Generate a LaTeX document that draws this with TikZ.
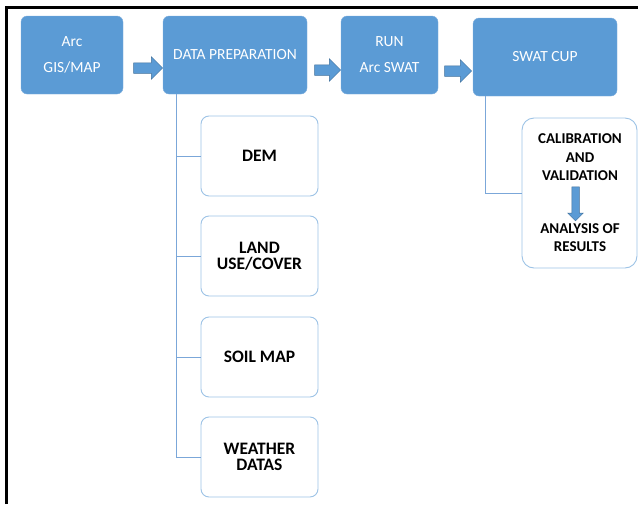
\documentclass[tikz,border=0pt]{standalone}
\usepackage{fontspec}
\setmainfont{Carlito}
\usepackage{tikz}
\usetikzlibrary{positioning,shapes.arrows,calc}
\definecolor{office}   {HTML}{5B9BD5}
\definecolor{officeln} {HTML}{41719C}
\definecolor{edgeblue} {HTML}{7FAEDD}
\definecolor{paleblue} {HTML}{9DC3E6}
\definecolor{wireblue} {HTML}{7BA7D9}
\tikzset{
  x=1pt, y=-1pt,
  % --- nodes
  step box/.style = {rounded corners=6pt, draw=edgeblue, fill=office, text=white,
                     align=center, inner sep=0pt, minimum height=78pt,
                     font=\fontsize{15.5}{26}\selectfont},
  input/.style    = {rounded corners=8pt, draw=paleblue, line width=0.9pt, fill=white,
                     align=center, inner sep=0pt, minimum width=117pt, minimum height=80pt,
                     font=\fontsize{17.5}{16}\selectfont\bfseries},
  cupbox/.style   = {rounded corners=12pt, draw=paleblue, line width=0.9pt, fill=white,
                     inner sep=0pt, minimum width=115pt, minimum height=150pt},
  cuptxt/.style   = {align=center, inner sep=0pt, font=\fontsize{15}{18.5}\selectfont\bfseries},
  flow/.style     = {single arrow, draw=officeln, fill=office, inner xsep=0pt, inner ysep=5pt,
                     single arrow head extend=6pt, line width=0.5pt},
  % --- edges
  link/.style     = {draw=wireblue, line width=0.9pt},
  frame/.style    = {draw=black, line width=3pt},
}
\begin{document}
\begin{tikzpicture}
  \useasboundingbox (0,0) rectangle (638,504);
  \draw[frame] (6.5,504) -- (6.5,7.5) -- (638,7.5);

  \node[step box, minimum width=102pt] (gis) at (72,55) {Arc\\GIS/MAP};
  \node[step box, minimum width=144pt] (prep) at (235,55) {DATA PREPARATION};
  \node[step box, minimum width=97pt] (run) at (389.5,55) {RUN\\Arc SWAT};
  \node[step box, minimum width=144pt] (cup) at (545,57) {SWAT CUP};

  \node[flow, minimum height=29pt] (a1) at (145.5,68) {};
  \node[flow, minimum height=26pt] (a2) at (325,70) {};
  \node[flow, minimum height=27pt] (a3) at (455.5,71) {};

  \node[input] (dem) at (259.5,156) {DEM};
  \node[input] (land) at (259.5,256) {LAND\\USE/COVER};
  \node[input] (soil) at (259.5,357) {SOIL MAP};
  \node[input] (wthr) at (259.5,457) {WEATHER\\DATAS};

  \foreach \n in {dem,land,soil,wthr}
    \draw[link] ([xshift=14pt]prep.south west) |- (\n.west);

  \node[cupbox] (cal) at (579.5,193) {};
  \node[cuptxt] (calval) at (580,157.5) {CALIBRATION\\AND\\VALIDATION};
  \node[cuptxt] (res) at (580,237.5) {ANALYSIS OF\\RESULTS};
  \node[flow, rotate=-90, minimum height=34pt, inner ysep=3.5pt,
        single arrow head extend=4pt] (a4) at (575.5,202) {};
  \draw[link] ([xshift=13pt]cup.south west) |- (cal.west);
\end{tikzpicture}
\end{document}
